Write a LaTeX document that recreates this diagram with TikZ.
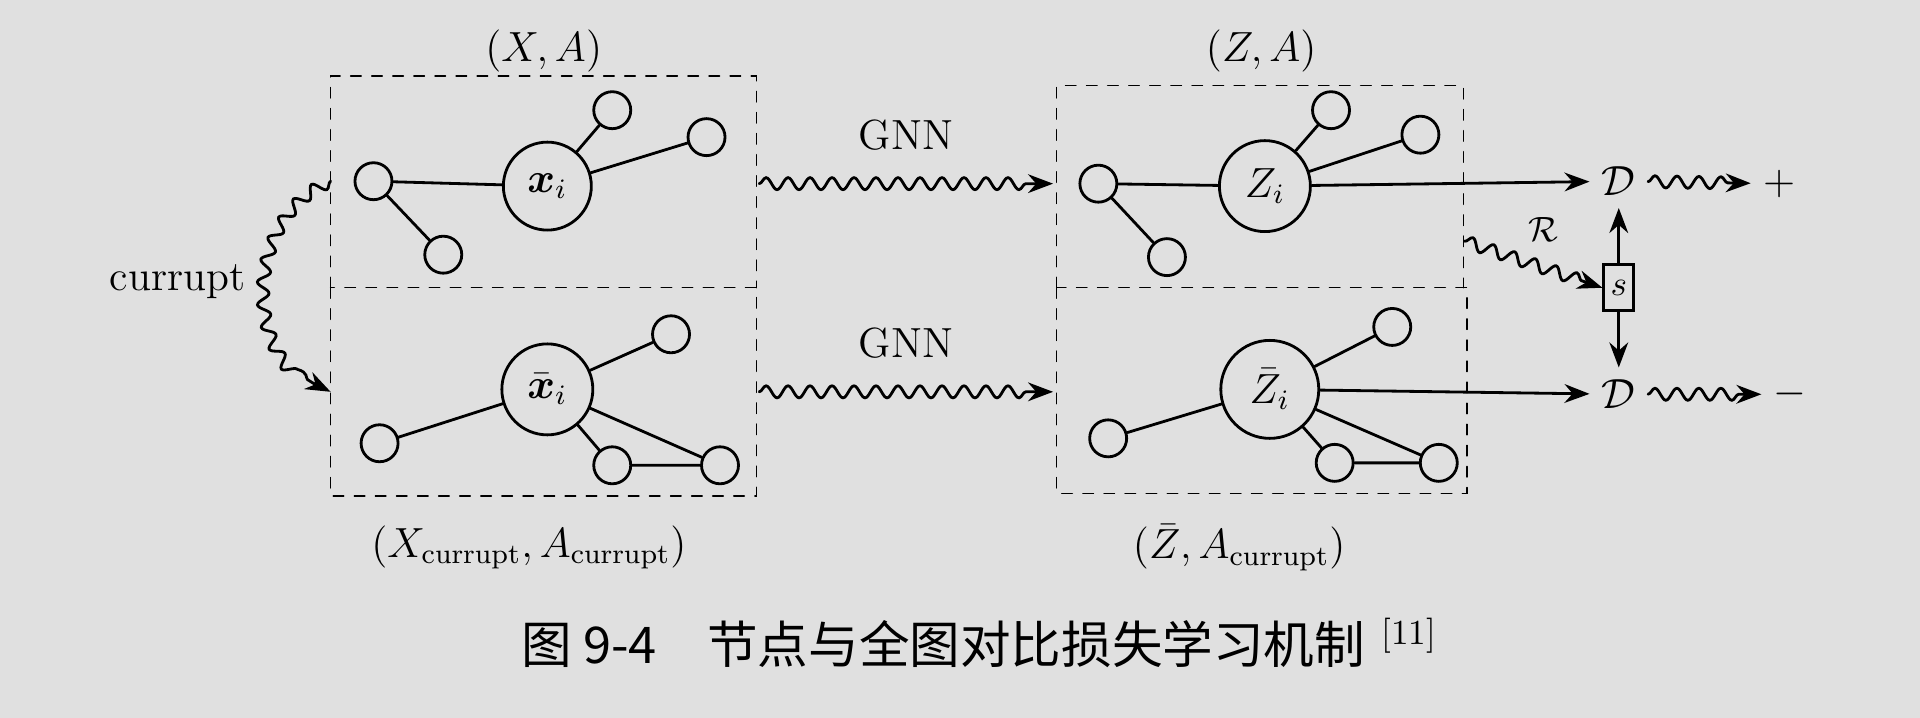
\documentclass[tikz,border=0pt]{standalone}
\usepackage{fontspec}
\newfontfamily\cjk{Noto Sans CJK SC}
\usepackage{amsmath}
\usetikzlibrary{decorations.pathmorphing,arrows.meta}
\begin{document}
\begin{tikzpicture}
		[x=0.1225mm,y=-0.1225mm,line cap=round,
		%Styles
		small node/.style={circle,draw,thick,minimum size=3.7mm,inner sep=0pt},
		main node/.style={circle,draw,thick,minimum size=8.8mm,inner sep=0pt,font=\large},
		frame/.style={dashed,thin},
		link/.style={thick},
		wave/.style={thick,-{Stealth[length=2.5mm]},decorate,
			decoration={snake,amplitude=0.6mm,segment length=2.2mm,post length=2mm}},
		plain arrow/.style={thick,-{Stealth[length=2.5mm]}}
		]
		\fill[black!12] (0,0) rectangle (1568,586);
		
		%Frames
		\draw[frame] (270,235) -- (270,62) -- (618,62) -- (618,235);
		\draw[frame] (270,235) rectangle (618,405);
		\draw[frame] (863,235) -- (863,70) -- (1195,70) -- (1195,235);
		\draw[frame] (863,235) rectangle (1198,403);
		\node at (444,42) {\large$(X,A)$};
		\node at (432,447) {\large$(X_{\text{currupt}},A_{\text{currupt}})$};
		\node at (1030,42) {\large$(Z,A)$};
		\node at (1012,447) {\large$(\bar Z,A_{\text{currupt}})$};
		
		%Graph (X,A)
		\node[main node] (x) at (447,152) {$\boldsymbol{x}_i$};
		\node[small node] (x1) at (305,148) {};
		\node[small node] (x2) at (362,208) {};
		\node[small node] (x3) at (500,90) {};
		\node[small node] (x4) at (577,112) {};
		\draw[link] (x) -- (x1) (x1) -- (x2) (x) -- (x3) (x) -- (x4);
		
		%Graph corrupted
		\node[main node,minimum size=9.1mm] (xb) at (447,318) {$\bar{\boldsymbol{x}}_i$};
		\node[small node] (xb1) at (548,273) {};
		\node[small node] (xb2) at (310,362) {};
		\node[small node] (xb3) at (500,380) {};
		\node[small node] (xb4) at (588,380) {};
		\draw[link] (xb) -- (xb1) (xb) -- (xb2) (xb) -- (xb3) (xb) -- (xb4) (xb3) -- (xb4);
		
		%Graph (Z,A)
		\node[main node,minimum size=9.1mm] (z) at (1033,152) {$Z_i$};
		\node[small node] (z1) at (897,150) {};
		\node[small node] (z2) at (953,210) {};
		\node[small node] (z3) at (1087,90) {};
		\node[small node] (z4) at (1160,110) {};
		\draw[link] (z) -- (z1) (z1) -- (z2) (z) -- (z3) (z) -- (z4);
		
		%Graph (Zbar,A)
		\node[main node,minimum size=9.8mm] (zb) at (1037,318) {$\bar Z_i$};
		\node[small node] (zb1) at (1137,267) {};
		\node[small node] (zb2) at (905,358) {};
		\node[small node] (zb3) at (1090,378) {};
		\node[small node] (zb4) at (1175,378) {};
		\draw[link] (zb) -- (zb1) (zb) -- (zb2) (zb) -- (zb3) (zb) -- (zb4) (zb3) -- (zb4);
		
		%Discriminator
		\node (dp) at (1322,148) {\large$\mathcal{D}$};
		\node (dm) at (1322,322) {\large$\mathcal{D}$};
		\node[draw,thick,minimum width=3mm,minimum height=4.6mm,inner sep=0pt] (s) at (1322,235) {$s$};
		\node (plus) at (1453,150) {\large$+$};
		\node (minus) at (1462,322) {\large$-$};
		\coordinate (g1a) at (620,150);
		\coordinate (g1b) at (860,150);
		\coordinate (g2a) at (620,320);
		\coordinate (g2b) at (860,320);
		\coordinate (c1) at (270,148);
		\coordinate (c2) at (270,320);
		\coordinate (r0) at (1196,197);
		
		\draw[wave] (g1a) -- node[above=2mm] {\large GNN} (g1b);
		\draw[wave] (g2a) -- node[above=2mm] {\large GNN} (g2b);
		\draw[wave] (c1) to[out=205,in=160,looseness=1.1] (c2);
		\node at (145,230) {\large currupt};
		\draw[plain arrow] (z) -- (dp);
		\draw[plain arrow] (zb) -- (dm);
		\draw[wave] (dp) -- (plus);
		\draw[wave] (dm) -- (minus);
		\draw[plain arrow] (s) -- (dp);
		\draw[plain arrow] (s) -- (dm);
		\draw[wave] (r0) -- node[above,xshift=1mm,yshift=1mm] {$\mathcal{R}$} (s.west);
		
		\node at (800,525) {\Large{\cjk 图 9-4\quad 节点与全图对比损失学习机制} \textsuperscript{[11]}};
	\end{tikzpicture}
\end{document}
